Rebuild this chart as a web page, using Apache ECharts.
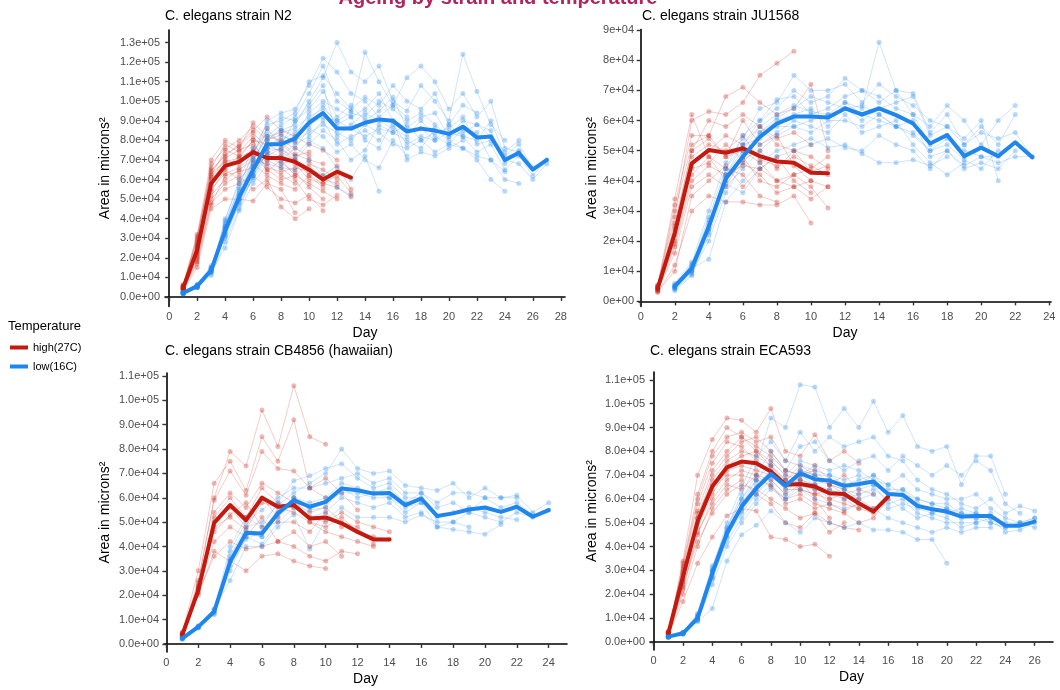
<!DOCTYPE html>
<html>
<head>
<meta charset="utf-8">
<script src="https://cdn.jsdelivr.net/npm/echarts@6/dist/echarts.min.js"></script>
<style>
  html, body { margin: 0; background: #fff; }
  #chart { width: 1060px; height: 690px; }
</style>
</head>
<body>
<div id="chart"></div>
<script>
// ---- data (area in microns^2 per day, one array per worm, first value = start day) ----
const n2HighMean = [4600, 24000, 58000, 67000, 69000, 74000, 71000, 71000, 69000, 65000, 60000, 64000, 61000];
const n2LowMean = [2000, 5500, 13600, 34000, 51000, 65000, 78000, 78000, 81000, 89000, 94000, 86000, 86000, 89000, 90700, 90000, 84500, 86000, 85000, 83300, 87000, 81500, 82000, 70000, 73600, 65000, 70000];
const n2HighWorms = [
  [5000, 28000, 62000, 75000, 72000, 80000, 78000, 74000, 70000, 66000, 62000, 67000, 55000],
  [3500, 20000, 52000, 60000, 65000, 70000, 68000, 62000, 58000],
  [6500, 32000, 70000, 80000, 76000, 89000, 82000, 80000, 76000, 72000],
  [4000, 18000, 48000, 55000, 58000, 62000, 56000, 50000, 48000, 52000, 44000],
  [5500, 26000, 65000, 72000, 78000, 85000, 92000, 85000, 82000, 78000, 75000, 70000],
  [3000, 15000, 45000, 50000, 50000, 49000, 58000, 55000, 43000],
  [4500, 22000, 58000, 68000, 70000, 76000, 70000, 72000, 68000, 60000, 58000, 62000, 53000],
  [6000, 30000, 66000, 78000, 74000, 82000, 74000, 68000, 64000, 56000, 50000],
  [4200, 24000, 55000, 63000, 66000, 72000, 65000, 60000, 62000, 68000, 65000, 60000],
  [5200, 27000, 60000, 70000, 68000, 74000, 86000, 78000, 72000, 74000],
  [3800, 19000, 50000, 58000, 62000, 55000, 60000, 46000, 40000, 45000],
  [4800, 25000, 61000, 71000, 75000, 78000, 70000, 66000, 60000, 50000, 47000, 52000],
  [5800, 29000, 68000, 76000, 80000, 87000, 80000, 83000, 79000],
  [4400, 21000, 54000, 65000, 60000, 68000, 62000, 58000, 55000, 62000, 58000, 56000, 51000],
  [5300, 31000, 64000, 73000, 77000, 84000, 76000, 79000, 73000, 70000, 68000],
  [4100, 23000, 57000, 66000, 72000, 74000, 66000, 64000, 66000, 64000, 60000, 58000],
  [3600, 17000, 47000, 62000, 64000, 66000, 72000, 76000, 70000, 62000, 56000],
  [4900, 26000, 63000, 69000, 71000, 80000, 64000, 70000, 62000, 58000, 54000, 50000]
];
const n2LowWorms = [
  [2000, 5000, 13000, 35000, 52000, 66000, 80000, 85000, 88000, 100000, 112000, 130000, 115000, 110000, 118000, 100000, 95000, 108000, 100000, 90000, 124000, 105000, 88000, 80000],
  [1500, 6000, 14000, 30000, 48000, 62000, 74000, 72000, 78000, 82000, 90000, 78000, 82000, 85000, 80000, 88000, 78000, 82000, 80000, 84000, 82000, 74000, 78000, 65000, 72000, 62000, 70000],
  [2500, 5500, 12000, 38000, 55000, 70000, 82000, 88000, 92000, 104000, 118000, 100000, 95000, 125000, 110000, 98000, 92000],
  [1800, 4500, 15000, 32000, 50000, 60000, 72000, 68000, 70000, 78000, 85000, 80000, 70000, 75000, 88000, 84000, 80000, 76000, 86000, 80000, 76000, 70000, 60000, 54000],
  [2200, 6500, 13500, 36000, 54000, 68000, 86000, 92000, 90000, 96000, 105000, 92000, 98000, 90000, 95000, 102000, 86000, 92000, 94000, 82000, 90000, 88000, 85000, 68000, 75000],
  [2000, 5200, 11000, 28000, 45000, 62000, 76000, 75000, 72000, 80000, 76000, 66000, 60000, 72000, 54000],
  [1600, 5800, 14500, 34000, 52000, 64000, 78000, 80000, 84000, 90000, 98000, 88000, 92000, 80000, 76000, 90000, 70000, 74000, 72000, 76000, 80000],
  [2400, 4800, 13000, 40000, 58000, 72000, 90000, 94000, 96000, 108000, 122000, 115000, 104000, 100000, 92000, 98000, 112000, 118000, 110000, 96000, 104000, 92000, 100000, 76000, 74000],
  [1900, 6200, 16000, 36000, 50000, 66000, 72000, 70000, 76000, 86000, 82000, 74000, 78000, 70000, 66000, 80000, 72000],
  [2100, 5400, 12500, 25000, 44000, 58000, 68000, 66000, 65000, 70000, 62000, 56000, 52000],
  [2300, 5600, 14000, 33000, 53000, 67000, 80000, 86000, 82000, 94000, 100000, 96000, 92000, 96000, 104000, 90000, 85000, 86000, 80000, 88000, 82000, 80000, 90000, 72000, 78000, 66000],
  [1700, 5000, 13500, 37000, 56000, 74000, 84000, 78000, 90000, 98000, 108000, 82000, 88000, 94000, 90000, 86000, 82000, 90000, 82000, 78000, 86000, 84000, 70000, 60000, 58000],
  [2000, 6000, 15000, 31000, 49000, 64000, 76000, 82000, 80000, 88000, 92000, 90000, 86000, 82000, 86000, 84000, 88000, 80000, 84000, 86000, 92000, 78000, 80000, 70000, 68000, 60000, 68000],
  [1800, 5300, 13800, 39000, 60000, 76000, 88000, 90000, 94000, 110000, 113000, 104000, 96000, 102000, 98000, 108000, 100000, 96000, 104000, 88000, 98000, 94000],
  [2200, 5700, 12800, 32000, 47000, 61000, 74000, 76000, 80000, 84000, 88000, 84000, 80000, 88000, 84000, 78000, 76000, 80000, 74000, 78000, 76000, 72000, 70000, 64000],
  [2000, 4900, 14200, 35000, 51000, 70000, 82000, 84000, 86000, 92000, 96000, 90000, 94000, 92000, 100000, 96000, 90000, 94000, 88000, 82000, 84000, 88000, 82000, 74000, 80000]
];

const ju1568HighMean = [4400, 22600, 45800, 50200, 49300, 50800, 48200, 46400, 46000, 42700, 42500];
const ju1568LowMean = [5000, 11000, 24800, 40800, 48000, 54600, 59000, 61300, 61300, 61000, 64000, 62000, 64000, 61800, 59000, 52400, 55200, 48200, 51000, 48200, 52800, 47800];
const ju1568HighWorms = [
  [4500, 28000, 60000, 63000, 62000, 66000, 75000, 79000, 83000],
  [3500, 18000, 40000, 45000, 42000, 45000, 44000, 40000, 38000, 40000, 38000],
  [5000, 32000, 55000, 55000, 68000, 71000, 66000, 62000, 64000, 72000, 50000],
  [3000, 12000, 30000, 35000, 33000, 33000, 32000, 32000, 35000, 26000],
  [4200, 24000, 48000, 52000, 50000, 55000, 47000, 45000, 48000, 45000, 42000],
  [5500, 34000, 62000, 48000, 44000, 42000, 35000, 33000],
  [4000, 20000, 45000, 50000, 55000, 52000, 58000, 52000, 50000, 48000, 44000],
  [3800, 16000, 38000, 42000, 38000, 48000, 40000, 38000, 42000, 38000, 31000],
  [4600, 26000, 50000, 54000, 48000, 60000, 52000, 55000, 45000, 40000],
  [4800, 22000, 44000, 46000, 52000, 47000, 50000, 44000, 50000, 43000, 45000],
  [3200, 10000, 35000, 40000, 45000, 38000, 44000, 48000, 40000, 36000],
  [5200, 30000, 52000, 55000, 48000, 50000, 46000, 40000, 42000, 44000, 48000],
  [4300, 25000, 50000, 60000, 58000, 62000, 58000, 54000, 56000, 52000],
  [3900, 19000, 42000, 48000, 40000, 46000, 42000, 36000, 38000, 34000, 38000]
];
const ju1568LowWorms = [
  [4500, 10000, 26000, 42000, 50000, 58000, 62000, 65000, 63000, 62000, 66000, 64000, 86000, 70000, 62000, 58000, 65000, 60000, 52000, 60000, 65000],
  [5500, 12000, 28000, 44000, 52000, 60000, 64000, 70000, 66000, 68000, 74000, 70000, 68000, 64000, 62000, 52000, 55000, 50000, 48000, 46000, 48000, 48000],
  [4000, 9000, 22000, 38000, 44000, 50000, 55000, 58000, 56000, 60000, 60000, 58000, 62000, 58000, 60000, 48000, 50000, 44000, 46000, 44000, 50000],
  [5000, 11000, 14000, 33000, 40000, 46000, 50000, 52000, 54000, 51000, 52000, 49000, 46000, 46000, 47000, 45000, 48000],
  [6000, 13000, 30000, 46000, 54000, 64000, 66000, 75000, 70000, 70000, 72000, 66000, 72000, 68000, 65000, 60000, 58000, 52000, 58000, 52000, 62000],
  [4800, 10500, 24000, 40000, 48000, 56000, 60000, 62000, 64000, 58000, 66000, 62000, 60000, 58000, 56000, 50000, 52000, 47000, 44000, 50000],
  [5200, 11500, 27000, 42000, 52000, 54000, 58000, 58000, 60000, 62000, 64000, 60000, 64000, 66000, 68000, 55000, 58000, 54000, 60000, 40000],
  [4200, 9500, 20000, 36000, 46000, 52000, 56000, 60000, 58000, 56000, 62000, 56000, 58000, 60000, 52000, 46000, 42000, 46000],
  [3500, 8500, 24000, 44000, 55000, 60000, 67000, 68000, 62000, 64000, 68000, 70000, 66000, 70000, 69000, 56000, 62000, 52000, 56000, 54000, 56000, 48000],
  [5000, 12500, 25000, 39000, 36000, 44000, 48000, 50000, 52000, 54000, 51000, 50000, 55000, 52000, 50000, 44000, 50000, 45000, 48000, 48000],
  [4600, 10000, 23000, 41000, 49000, 56000, 61000, 64000, 68000, 66000, 64000, 65000, 62000, 58000, 55000, 50000, 54000, 48000]
];

const cb4856HighMean = [3700, 22000, 49700, 57000, 50800, 60000, 56300, 57000, 51500, 51900, 49500, 46000, 42900, 42900];
const cb4856LowMean = [2300, 7000, 13300, 33700, 45600, 45300, 53600, 59000, 56300, 58300, 63800, 63100, 61700, 62000, 57000, 59700, 52500, 53600, 55200, 56000, 54200, 56300, 52200, 54900];
const cb4856HighWorms = [
  [4000, 25000, 60000, 79000, 73000, 96000, 81000, 106000, 85000, 82000],
  [3500, 21000, 48000, 52000, 47000, 58000, 56000, 54000, 50000, 48000, 52000, 46000, 44000, 43000],
  [5000, 30000, 66000, 75000, 63000, 85000, 75000, 92000, 64000, 60000],
  [3000, 20000, 38000, 34000, 30000, 36000, 37000, 34000, 32000, 31000],
  [4200, 23000, 54000, 62000, 56000, 66000, 62000, 58000, 54000, 56000, 50000, 48000, 41000],
  [3800, 22000, 42000, 48000, 44000, 52000, 42000, 40000, 36000, 34000, 38000, 37000],
  [4400, 26000, 59000, 71000, 61000, 79000, 72000, 71000, 64000, 68000, 62000, 55000],
  [3200, 21000, 36000, 42000, 39000, 40000, 42000, 46000, 40000, 42000, 36000],
  [4600, 24000, 52000, 60000, 52000, 64000, 58000, 56000, 52000, 50000, 54000, 50000, 48000, 46000],
  [3600, 22500, 50000, 56000, 48000, 60000, 52000, 60000, 50000, 46000, 44000, 42000, 40000],
  [4100, 23500, 46000, 53000, 58000, 48000, 50000, 50000, 46000, 54000, 48000]
];
const cb4856LowWorms = [
  [2000, 7500, 14000, 35000, 46000, 44000, 54000, 60000, 58000, 60000, 66000, 64000, 62000, 64000, 58000, 62000, 56000, 58000, 54000, 60000, 56000, 58000, 53000, 55000],
  [2500, 6500, 12500, 30000, 44000, 41000, 50000, 56000, 52000, 54000, 60000, 58000, 56000, 58000, 52000, 54000, 48000, 47000, 46000, 45000, 49000],
  [2200, 7000, 13000, 36000, 48000, 50000, 57000, 62000, 66000, 70000, 80000, 72000, 70000, 71000, 65000, 64000, 63000, 66000, 60000, 64000, 60000, 61000, 54000, 58000],
  [2600, 7200, 14500, 26000, 40000, 40000, 48000, 53000, 39000, 51000, 56000, 52000, 52000, 52000, 50000, 53000, 50000, 50000, 48000],
  [2100, 6800, 12000, 38000, 50000, 55000, 60000, 64000, 64000, 66000, 68000, 70000, 66000, 68000, 62000, 62000, 58000, 62000, 62000, 60000, 60000, 60000],
  [2400, 7300, 13500, 32000, 43000, 46000, 52000, 58000, 56000, 58000, 62000, 62000, 60000, 60000, 56000, 58000, 52000, 54000, 56000, 54000, 52000, 51000],
  [2300, 6600, 14000, 40000, 52000, 48000, 58000, 67000, 69000, 72000, 74000, 68000, 64000, 66000, 60000, 60000],
  [1900, 7100, 13200, 34000, 45000, 44000, 54000, 60000, 55000, 56000, 64000, 60000, 62000, 60000, 54000, 58000, 48000, 50000, 54000, 52000, 50000, 54000, 52000]
];

const eca593HighMean = [3600, 27400, 50500, 65200, 73300, 75700, 75000, 71500, 66000, 66300, 65200, 62400, 62100, 58200, 54700, 61000];
const eca593LowMean = [2200, 3600, 10000, 28800, 45600, 56800, 64500, 70500, 65500, 70800, 68300, 67700, 65500, 66300, 67300, 62100, 61700, 57100, 55700, 54700, 52600, 52900, 52900, 48800, 48800, 50500];
const eca593HighWorms = [
  [4000, 34000, 70000, 85000, 94000, 93000, 88000, 98000, 80000, 78000, 87000, 76000, 80000, 75000],
  [3200, 22000, 45000, 60000, 68000, 72000, 70000, 65000, 60000, 62000, 58000, 56000, 54000, 50000, 52000, 60000],
  [4500, 30000, 55000, 72000, 80000, 86000, 82000, 78000, 72000, 70000, 74000, 68000, 66000],
  [3000, 17000, 33000, 44000, 53000, 56000, 55000, 44000, 43000, 40000, 41000, 36000],
  [3800, 28000, 52000, 68000, 76000, 80000, 78000, 74000, 68000, 72000, 68000, 66000, 62000, 60000, 56000],
  [3400, 25000, 48000, 62000, 72000, 74000, 72000, 70000, 64000, 64000, 62000, 60000, 58000, 56000],
  [4200, 32000, 60000, 78000, 86000, 88000, 84000, 86000, 76000, 74000, 70000, 66000, 70000, 64000, 62000],
  [3500, 24000, 42000, 54000, 62000, 66000, 64000, 60000, 56000, 52000, 54000, 50000, 48000, 47000],
  [3700, 27000, 54000, 66000, 74000, 78000, 80000, 76000, 70000, 68000, 66000, 60000, 62000],
  [3900, 29000, 50000, 64000, 70000, 70000, 68000, 66000, 58000, 60000, 56000, 58000, 55000, 58000],
  [3300, 23000, 46000, 58000, 66000, 64000, 70000, 68000, 62000, 66000, 64000, 58000],
  [4100, 31000, 58000, 75000, 84000, 82000, 76000, 72000, 68000, 64000, 62000, 64000, 60000, 56000, 54000],
  [3600, 26000, 52000, 70000, 78000, 84000, 86000, 80000, 72000, 70000, 72000, 66000, 64000, 62000],
  [4300, 33000, 62000, 80000, 90000, 86000, 80000, 74000, 66000, 68000, 60000, 52000],
  [3100, 20000, 40000, 56000, 64000, 68000, 62000, 58000, 50000, 48000, 54000, 46000, 50000]
];
const eca593LowWorms = [
  [2000, 3500, 10000, 30000, 48000, 62000, 74000, 94000, 90000, 108000, 107000, 90000, 98000, 90000, 101000, 88000, 95000, 82000, 80000, 82000, 66000, 78000, 78000, 62000],
  [2400, 3800, 9000, 26000, 44000, 55000, 64000, 70000, 64000, 68000, 66000, 64000, 62000, 64000, 66000, 58000, 60000, 54000, 52000, 50000, 50000, 50000, 52000, 46000, 47000, 50000],
  [2100, 3200, 11000, 30000, 50000, 65000, 78000, 84000, 76000, 88000, 80000, 86000, 82000, 84000, 86000, 78000, 76000, 68000, 64000, 62000, 58000, 56000, 60000, 54000, 57000, 55000],
  [2300, 4000, 8500, 14000, 34000, 45000, 49000, 55000, 50000, 46000, 52000, 50000, 48000, 50000, 47000, 47000, 46000, 43000, 43000, 33000],
  [1900, 3400, 10500, 28000, 46000, 58000, 66000, 72000, 66000, 72000, 70000, 70000, 66000, 68000, 70000, 64000, 64000, 60000, 58000, 58000, 54000, 54000, 52000, 50000, 50000, 52000],
  [2200, 3600, 9500, 27000, 42000, 52000, 60000, 66000, 60000, 64000, 60000, 58000, 56000, 58000, 56000, 52000, 50000, 48000, 46000, 48000, 46000, 48000, 48000],
  [2500, 3900, 12000, 32000, 48000, 60000, 68000, 76000, 70000, 76000, 74000, 72000, 74000, 72000, 68000, 66000, 70000, 64000, 62000, 60000, 60000, 62000, 56000, 52000, 50000, 48000],
  [2000, 3300, 9000, 24000, 40000, 50000, 58000, 64000, 60000, 66000, 64000, 62000, 60000, 62000, 64000, 60000, 56000, 52000, 54000, 56000, 52000, 52000, 50000, 48000],
  [2300, 3700, 10800, 31000, 47000, 60000, 70000, 80000, 72000, 82000, 84000, 76000, 72000, 76000, 78000, 72000, 78000, 74000, 70000, 74000, 70000, 76000, 72000, 58000, 54000],
  [2100, 3500, 10200, 29000, 45000, 56000, 62000, 68000, 62000, 70000, 66000, 68000, 64000, 60000, 62000, 56000, 58000, 56000, 54000, 52000, 48000, 50000],
  [2200, 3800, 11500, 30000, 46000, 58000, 68000, 74000, 68000, 74000, 72000, 70000, 68000, 70000, 66000, 62000, 64000, 58000, 56000, 54000, 56000, 54000, 50000, 48000, 50000, 52000],
  [2000, 3400, 9800, 27000, 44000, 54000, 62000, 70000, 66000, 72000, 70000, 66000, 64000, 66000, 70000, 66000, 62000, 60000, 58000, 56000, 54000, 52000, 54000]
];

// tick labels
const n2DayTicks = [0, 2, 4, 6, 8, 10, 12, 14, 16, 18, 20, 22, 24, 26, 28];
const ju1568DayTicks = [0, 2, 4, 6, 8, 10, 12, 14, 16, 18, 20, 22, 24];
const cb4856DayTicks = [0, 2, 4, 6, 8, 10, 12, 14, 16, 18, 20, 22, 24];
const eca593DayTicks = [0, 2, 4, 6, 8, 10, 12, 14, 16, 18, 20, 22, 24, 26];
const n2AreaTicks = [0, 10000, 20000, 30000, 40000, 50000, 60000, 70000, 80000, 90000, 100000, 110000, 120000, 130000];
const ju1568AreaTicks = [0, 10000, 20000, 30000, 40000, 50000, 60000, 70000, 80000, 90000];
const cb4856AreaTicks = [0, 10000, 20000, 30000, 40000, 50000, 60000, 70000, 80000, 90000, 100000, 110000];
const eca593AreaTicks = [0, 10000, 20000, 30000, 40000, 50000, 60000, 70000, 80000, 90000, 100000, 110000];

// ---- layout ----
const RED = "#C3190E";
const BLUE = "#1F86EE";
const FONT = "Liberation Sans";

const panels = [
  {
    title: "C. elegans strain N2", titlePos: [165, 9],
    box: { left: 165, top: 30, width: 400, height: 276.5 },
    xRange: [-0.3, 28.3], yRange: [-4900, 136400], digits: 1, yGap: 53,
    xTicks: n2DayTicks, yTicks: n2AreaTicks,
    high: n2HighWorms, low: n2LowWorms, highMean: n2HighMean, lowMean: n2LowMean, lowStart: 1,
  },
  {
    title: "C. elegans strain JU1568", titlePos: [642, 9],
    box: { left: 639, top: 29.5, width: 412, height: 277 },
    xRange: [-0.1, 24.1], yRange: [-1700, 90200], digits: 0, yGap: 40,
    xTicks: ju1568DayTicks, yTicks: ju1568AreaTicks,
    high: ju1568HighWorms, low: ju1568LowWorms, highMean: ju1568HighMean, lowMean: ju1568LowMean, lowStart: 2,
  },
  {
    title: "C. elegans strain CB4856 (hawaiian)", titlePos: [165, 344],
    box: { left: 164, top: 373, width: 403, height: 279 },
    xRange: [-0.15, 25.15], yRange: [-3300, 111200], digits: 1, yGap: 52,
    xTicks: cb4856DayTicks, yTicks: cb4856AreaTicks,
    high: cb4856HighWorms, low: cb4856LowWorms, highMean: cb4856HighMean, lowMean: cb4856LowMean, lowStart: 1,
  },
  {
    title: "C. elegans strain ECA593", titlePos: [650, 344],
    box: { left: 650, top: 372, width: 403, height: 278 },
    xRange: [-0.25, 27.25], yRange: [-3400, 113300], digits: 1, yGap: 51,
    xTicks: eca593DayTicks, yTicks: eca593AreaTicks,
    high: eca593HighWorms, low: eca593LowWorms, highMean: eca593HighMean, lowMean: eca593LowMean, lowStart: 1,
  },
];

const sciLabel = (digits) => (v) =>
  Number(v).toExponential(digits).replace(/e([+-])(\d)$/, "e$10$2");

const toPoints = (values, start) => values.map((v, k) => [start + k, v]);

const wormSeries = (values, start, color, idx) => ({
  type: "line",
  xAxisIndex: idx,
  yAxisIndex: idx,
  data: toPoints(values, start),
  symbol: "circle",
  symbolSize: 5,
  showSymbol: true,
  lineStyle: { color: color, width: 0.9, opacity: 0.25 },
  itemStyle: { color: color, opacity: 0.3 },
  silent: true,
  z: 1,
});

const meanSeries = (name, values, start, color, idx) => ({
  name: name,
  type: "line",
  xAxisIndex: idx,
  yAxisIndex: idx,
  data: toPoints(values, start),
  showSymbol: false,
  symbol: "none",
  lineStyle: { color: color, width: 4, join: "round", cap: "round" },
  itemStyle: { color: color },
  silent: true,
  z: 3,
});

const axisLineStyle = { show: true, lineStyle: { color: "#000", width: 1.6 } };
const axisTickStyle = { show: true, length: 4, lineStyle: { color: "#333", width: 1.4 } };

const grids = [];
const xAxes = [];
const yAxes = [];
const titles = [];
const series = [];

panels.forEach((p, i) => {
  grids.push(Object.assign({ containLabel: false }, p.box));
  titles.push({
    text: p.title,
    left: p.titlePos[0],
    top: p.titlePos[1],
    padding: 0,
    textStyle: { fontFamily: FONT, fontSize: 14, fontWeight: "normal", color: "#000" },
  });
  xAxes.push({
    gridIndex: i,
    type: "value",
    min: p.xRange[0],
    max: p.xRange[1],
    name: "Day",
    nameLocation: "middle",
    nameGap: 20,
    nameTextStyle: { fontFamily: FONT, fontSize: 14, color: "#000" },
    axisLine: axisLineStyle,
    axisTick: Object.assign({ customValues: p.xTicks }, axisTickStyle),
    axisLabel: { customValues: p.xTicks, color: "#4d4d4d", fontFamily: FONT, fontSize: 11, margin: 5 },
    splitLine: { show: false },
  });
  yAxes.push({
    gridIndex: i,
    type: "value",
    min: p.yRange[0],
    max: p.yRange[1],
    name: "Area in microns²",
    nameLocation: "middle",
    nameGap: p.yGap,
    nameTextStyle: { fontFamily: FONT, fontSize: 14, color: "#000" },
    axisLine: axisLineStyle,
    axisTick: Object.assign({ customValues: p.yTicks }, axisTickStyle),
    axisLabel: {
      customValues: p.yTicks,
      formatter: sciLabel(p.digits),
      color: "#4d4d4d",
      fontFamily: FONT,
      fontSize: 11,
      margin: 5,
    },
    splitLine: { show: false },
  });
  p.high.forEach((w) => series.push(wormSeries(w, 1, RED, i)));
  p.low.forEach((w) => series.push(wormSeries(w, p.lowStart, BLUE, i)));
  series.push(meanSeries("high(27C)", p.highMean, 1, RED, i));
  series.push(meanSeries("low(16C)", p.lowMean, p.lowStart, BLUE, i));
});

titles.push({
  text: "Temperature",
  left: 8,
  top: 320,
  padding: 0,
  textStyle: { fontFamily: FONT, fontSize: 13, fontWeight: "normal", color: "#000" },
});

const chart = echarts.init(document.getElementById("chart"), null, { renderer: "canvas" });
chart.setOption({
  animation: false,
  backgroundColor: "#fff",
  title: titles,
  legend: {
    data: [
      { name: "high(27C)", icon: "rect", itemStyle: { color: RED } },
      { name: "low(16C)", icon: "rect", itemStyle: { color: BLUE } },
    ],
    orient: "vertical",
    left: 10,
    top: 342,
    padding: 0,
    itemWidth: 18,
    itemHeight: 4,
    itemGap: 8,
    selectedMode: false,
    textStyle: { fontFamily: FONT, fontSize: 11, color: "#000" },
  },
  graphic: [
    {
      type: "text",
      x: 498,
      y: 8.5,
      silent: true,
      style: {
        text: "Ageing by strain and temperature",
        align: "center",
        verticalAlign: "bottom",
        font: "bold 20px Liberation Sans",
        fill: "#B0245F",
      },
    },
  ],
  grid: grids,
  xAxis: xAxes,
  yAxis: yAxes,
  series: series,
});
</script>
</body>
</html>
